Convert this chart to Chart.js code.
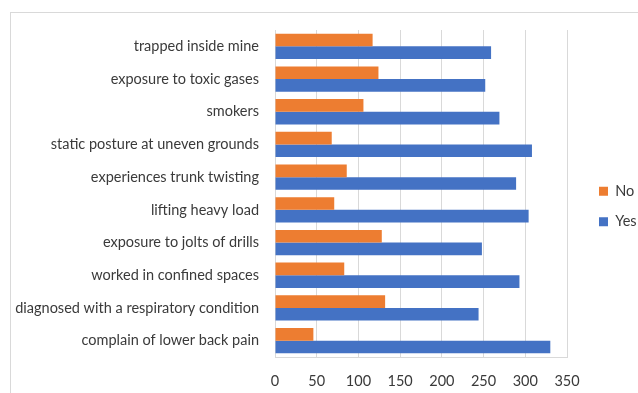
<!DOCTYPE html>
<html>
<head>
<meta charset="utf-8">
<script src="https://cdn.jsdelivr.net/npm/chart.js@4"></script>
<style>
  html, body { margin: 0; padding: 0; background: #ffffff; overflow: hidden; }
  #frame { position: absolute; left: 10px; top: 12px; width: 700px; height: 500px; border: 1px solid #d9d9d9; box-sizing: border-box; }
  #wrap { position: absolute; left: 0; top: 0; width: 638px; height: 393px; }
</style>
</head>
<body>
<div id="frame"></div>
<div id="wrap"><canvas id="c" width="638" height="393"></canvas></div>
<script>
const categories = [
  "trapped inside mine",
  "exposure to toxic gases",
  "smokers",
  "static posture at uneven grounds",
  "experiences trunk twisting",
  "lifting heavy load",
  "exposure to jolts of drills",
  "worked in confined spaces",
  "diagnosed with a respiratory condition",
  "complain of lower back pain"
];
const noValues  = [117, 124, 106, 68, 86, 71, 128, 83, 132, 46];
const yesValues = [259, 252, 269, 308, 289, 304, 248, 293, 244, 330];
const xTicks = [0, 50, 100, 150, 200, 250, 300, 350];

const FONT = "Lato";
const TEXT = "#3a3a3a";

const legendPlacer = {
  id: "legendPlacer",
  beforeLayout(chart) {
    const lg = chart.legend;
    if (lg && !lg._patched) {
      const orig = lg.fit.bind(lg);
      lg.fit = function () { orig(); this.width = 71; };
      lg._patched = true;
    }
  },
  afterLayout(chart) {
    const lg = chart.legend;
    if (lg) {
      lg.left += 16; lg.right += 16;
      lg.top -= 5; lg.bottom -= 5;
    }
  }
};

new Chart(document.getElementById("c"), {
  type: "bar",
  data: {
    labels: categories,
    datasets: [
      { label: "No",  data: noValues,  backgroundColor: "#ED7D31", barPercentage: 1.0, categoryPercentage: 0.775 },
      { label: "Yes", data: yesValues, backgroundColor: "#4472C4", barPercentage: 1.0, categoryPercentage: 0.775 }
    ]
  },
  plugins: [legendPlacer],
  options: {
    indexAxis: "y",
    responsive: false,
    animation: false,
    devicePixelRatio: 1,
    layout: { padding: { top: 30, left: 0, right: 0, bottom: 0 } },
    plugins: {
      legend: {
        position: "right",
        align: "center",
        labels: {
          boxWidth: 9, boxHeight: 9, padding: 16,
          color: TEXT,
          font: { family: FONT, size: 14.5 }
        }
      },
      tooltip: { enabled: false }
    },
    scales: {
      x: {
        min: 0, max: 350,
        afterBuildTicks: (s) => { s.ticks = xTicks.map(v => ({ value: v })); },
        afterFit: (s) => { s.height = 36; },
        grid: { color: "#d9d9d9", drawTicks: false, lineWidth: 1 },
        border: { display: true, color: "#d9d9d9" },
        ticks: { color: TEXT, padding: 16, font: { family: FONT, size: 14.5 } }
      },
      y: {
        afterFit: (s) => { s.width = 275; },
        grid: { display: false, drawTicks: false },
        border: { display: true, color: "#d9d9d9" },
        ticks: { color: TEXT, padding: 16, font: { family: FONT, size: 14.5 } }
      }
    }
  }
});
</script>
</body>
</html>
